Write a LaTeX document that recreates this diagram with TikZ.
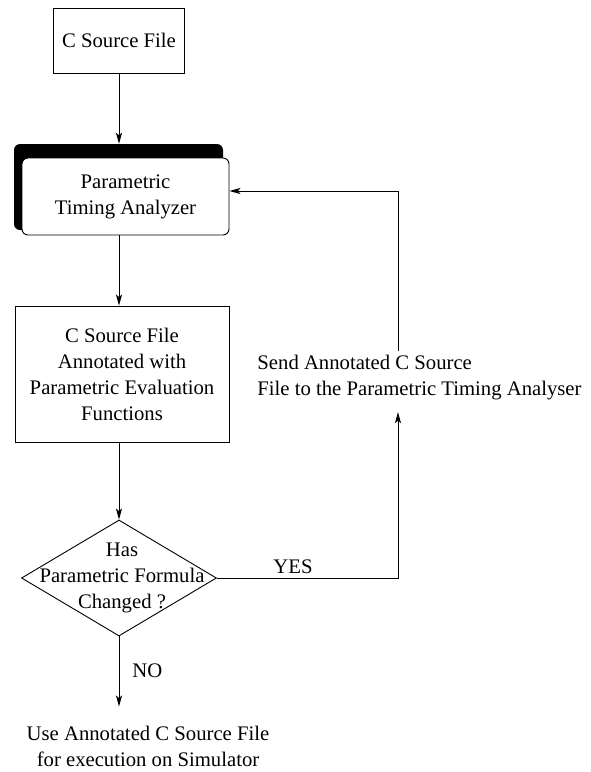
\documentclass[tikz,border=0pt]{standalone}
\usepackage{fontspec}
\setmainfont{Liberation Serif}
\usetikzlibrary{arrows.meta, shapes.geometric}

\begin{document}
\begin{tikzpicture}[x=1pt, y=-1pt,
            every node/.style={font=\fontsize{20.7}{26}\selectfont, inner sep=4pt},
            box/.style={draw, line width=0.9pt, align=center, inner sep=0pt},
            arr/.style={-{Stealth[length=11pt, width=6pt, inset=2.5pt]}, line width=0.9pt}]
            \useasboundingbox (0,0) rectangle (590,772);

            \node[box, minimum width=131pt, minimum height=65pt] (SF) at (119,40.5) {C Source File};

            \node[fill=black, rounded corners=6pt, minimum width=209pt, minimum height=86pt, inner sep=0pt] (PS) at (118.5,187) {};
            \node[box, fill=white, rounded corners=6pt, minimum width=207pt, minimum height=77pt] (PT) at (125.5,196.5) {Parametric\\Timing Analyzer};

            \node[box, minimum width=214pt, minimum height=136pt] (AS) at (122,374) {C Source File\\Annotated with\\Parametric Evaluation\\Functions};

            \node[box, shape=diamond, minimum width=195pt, minimum height=116pt, label={[align=center, xshift=3pt]center:Has\\Parametric Formula\\Changed ?}] (HC) at (119,578) {};

            \node[align=left] (SA) at (419.5,378) {Send Annotated C Source\\File to the Parametric Timing Analyser};
            \node[align=center] (UA) at (148,746) {Use Annotated C Source File\\for execution on Simulator};

            \coordinate (YC) at (398,578);
            \coordinate (FC) at (398,191);

            \draw[arr] (SF) -- (SF |- PS.north);
            \draw[arr] (PT.south -| SF) -- (AS.north -| SF);
            \draw[arr] (AS.south -| SF) -- (HC.north);
            \draw[arr, shorten >=15pt] (HC.south) -- node[pos=0.4, right=9pt] {NO} (HC |- UA.north);

            \draw[arr, shorten >=7.5pt] (HC.east) -- node[pos=0.42, above] {YES} (YC) -- (YC |- SA.south);
            \draw[arr] (SA.north -| YC) -- (FC) -- (FC -| PT.east);
        \end{tikzpicture}
\end{document}
